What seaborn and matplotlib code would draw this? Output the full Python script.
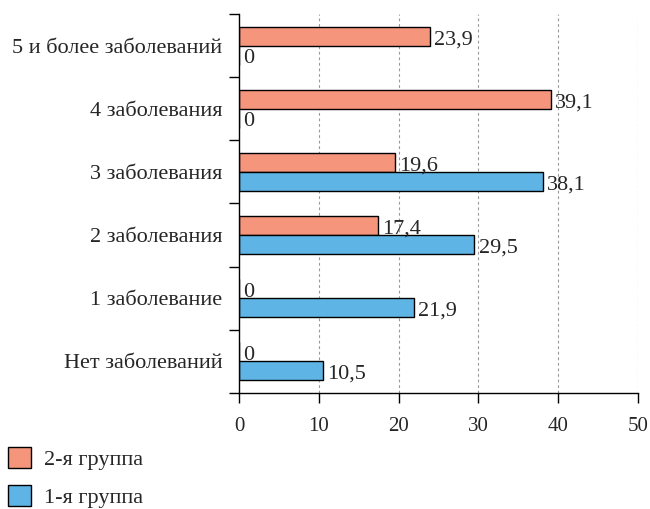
import matplotlib
matplotlib.use("Agg")
import matplotlib.pyplot as plt
from matplotlib.patches import Patch
from matplotlib.ticker import FixedLocator
import seaborn as sns
import pandas as pd

categories = ["5 и более заболеваний", "4 заболевания", "3 заболевания",
              "2 заболевания", "1 заболевание", "Нет заболеваний"]
groups = ["2-я группа", "1-я группа"]
group2 = [23.9, 39.1, 19.6, 17.4, 0, 0]
group1 = [0, 0, 38.1, 29.5, 21.9, 10.5]
x_ticks = [0, 10, 20, 30, 40, 50]
colors = ["#F5957C", "#5EB4E4"]

rows = []
for c, v in zip(categories, group2):
    rows.append({"cat": c, "group": groups[0], "value": v})
for c, v in zip(categories, group1):
    rows.append({"cat": c, "group": groups[1], "value": v})
df = pd.DataFrame(rows)

sns.set_style("white")
plt.rcParams["font.family"] = ["Liberation Serif", "DejaVu Serif"]
plt.rcParams["font.size"] = 16

fig = plt.figure(figsize=(6.5, 5.09), dpi=100)
ax = fig.add_axes([0.3677, 0.2279, 0.6138, 0.7446])

sns.barplot(data=df, y="cat", x="value", hue="group", order=categories,
            hue_order=groups, palette=colors, orient="h", width=0.6,
            edgecolor="black", linewidth=1.0, ax=ax, legend=False, saturation=1)

for cont in ax.containers:
    labels = [f"{b.get_width():.1f}".replace(".", ",") if b.get_width() != 0 else "0"
              for b in cont]
    anns = ax.bar_label(cont, labels=labels, padding=3, fontsize=16)
    for a in anns:
        a.xyann = (3, -2.5)

ax.set_xlim(0, 50)
ax.set_ylim(5.5, -0.5)
ax.set_xticks(x_ticks)
ax.set_xticklabels([str(t) for t in x_ticks], fontsize=15)
ax.set_xlabel("")
ax.set_ylabel("")
ax.tick_params(axis="x", which="major", bottom=True, direction="out", length=7,
               width=1, color="black", pad=10)
ax.tick_params(axis="y", which="major", left=True, length=0, pad=12, labelsize=16)
ax.yaxis.set_minor_locator(FixedLocator([i - 0.5 for i in range(len(categories) + 1)]))
ax.tick_params(axis="y", which="minor", left=True, direction="out", length=7,
               width=1, color="black")

for t in x_ticks[1:]:
    ax.axvline(t, color="#9a9a9a", linestyle=(0, (2.5, 2.5)), linewidth=0.8, zorder=0)

for s in ["top", "right"]:
    ax.spines[s].set_visible(False)
for s in ["left", "bottom"]:
    ax.spines[s].set_color("black")
    ax.spines[s].set_linewidth(1.0)

handles = [Patch(facecolor=colors[0], edgecolor="black", linewidth=1.0),
           Patch(facecolor=colors[1], edgecolor="black", linewidth=1.0)]
fig.legend(handles, groups, loc="upper left", bbox_to_anchor=(0.012, 0.122),
           frameon=False, fontsize=16, handlelength=1.05, handleheight=1.05,
           handletextpad=0.6, labelspacing=0.7, borderaxespad=0, borderpad=0)

fig.savefig("out.png", dpi=100)
